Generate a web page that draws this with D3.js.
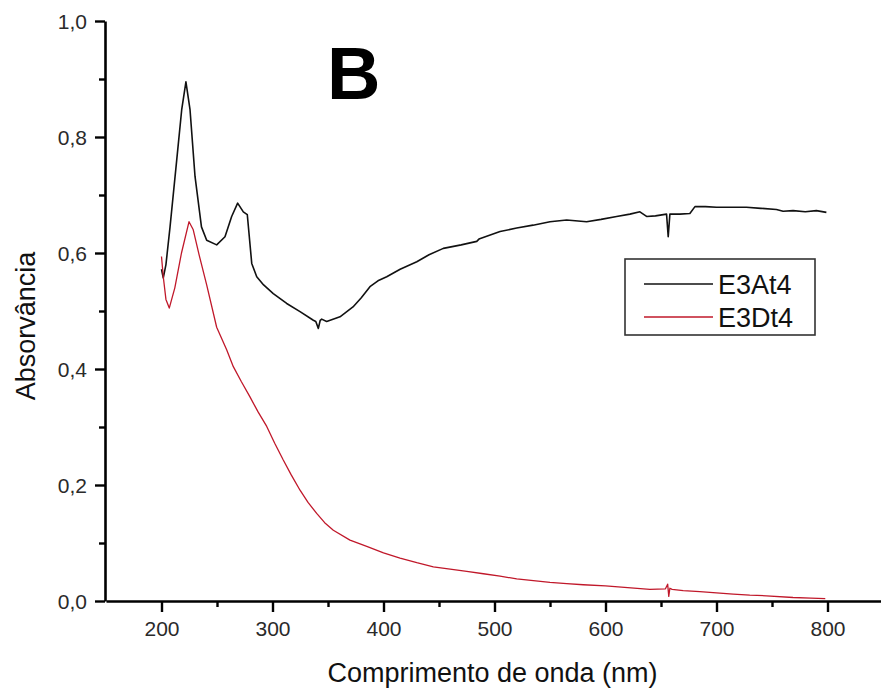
<!DOCTYPE html>
<html>
<head>
<meta charset="utf-8">
<script src="https://cdn.jsdelivr.net/npm/d3@7/dist/d3.min.js"></script>
<style>
  html, body { margin: 0; padding: 0; background: #fff; }
  svg { display: block; }
  text { font-family: "Liberation Sans", Arial, sans-serif; }
</style>
</head>
<body>
<svg id="chart" width="881" height="688"></svg>
<script>
// UV-Vis absorbance spectra, wavelength in nm
const seriesNames = ["E3At4", "E3Dt4"];
const seriesColors = ["#111111", "#c0182a"];

const wavelengthA = [200, 201.6, 204, 207.7, 213.7, 218.2, 222, 225.7, 230.2, 236, 240.7, 249.7, 257.2, 263.2, 268.6, 273.7, 277.3, 281.3, 285.8, 292, 300.7, 312.8, 324.8, 336.8, 339, 341.3, 343, 344.3, 348.8, 360.8, 372.5, 380, 387.8, 395, 402.9, 415, 430, 441, 453.9, 470, 484, 486, 505, 520, 534.7, 550, 565, 583, 596, 610, 622, 631, 634, 637, 645, 655, 656.5, 658, 667, 676, 680.6, 690, 700, 715, 727, 740, 754, 760, 769, 780, 790, 799];
const absorbA     = [0.572, 0.557, 0.580, 0.645, 0.760, 0.847, 0.895, 0.847, 0.732, 0.645, 0.622, 0.614, 0.628, 0.663, 0.686, 0.671, 0.666, 0.582, 0.559, 0.545, 0.530, 0.513, 0.499, 0.484, 0.482, 0.470, 0.484, 0.486, 0.482, 0.490, 0.507, 0.523, 0.542, 0.552, 0.559, 0.572, 0.585, 0.597, 0.608, 0.614, 0.620, 0.624, 0.637, 0.643, 0.648, 0.654, 0.657, 0.654, 0.658, 0.663, 0.667, 0.671, 0.667, 0.663, 0.664, 0.667, 0.628, 0.667, 0.667, 0.668, 0.680, 0.680, 0.679, 0.679, 0.679, 0.677, 0.675, 0.672, 0.673, 0.671, 0.673, 0.670];

const wavelengthD = [200, 201.6, 204, 207, 212, 218, 224.8, 228.6, 234, 240.7, 249.7, 258.7, 264.7, 272, 279.7, 287, 294.8, 302, 309.7, 317, 324.8, 332, 339.8, 347, 354.8, 369.8, 384.9, 400, 414.9, 430, 444.9, 460, 475, 490, 505, 520, 535, 550, 565, 580, 600, 620, 640, 654, 656, 657, 658, 660, 670, 685, 700, 715, 730, 745, 769, 785, 798];
const absorbD     = [0.594, 0.559, 0.520, 0.505, 0.540, 0.600, 0.654, 0.640, 0.596, 0.545, 0.472, 0.433, 0.404, 0.378, 0.352, 0.326, 0.301, 0.272, 0.243, 0.217, 0.191, 0.170, 0.151, 0.135, 0.122, 0.105, 0.094, 0.083, 0.074, 0.066, 0.059, 0.055, 0.051, 0.047, 0.043, 0.038, 0.035, 0.032, 0.030, 0.028, 0.026, 0.023, 0.020, 0.021, 0.029, 0.008, 0.022, 0.020, 0.018, 0.016, 0.014, 0.012, 0.010, 0.009, 0.006, 0.005, 0.004];

const xMajorTicks = [200, 300, 400, 500, 600, 700, 800];
const xMinorTicks = [250, 350, 450, 550, 650, 750];
const yMajorTicks = [0, 0.2, 0.4, 0.6, 0.8, 1.0];
const yMinorTicks = [0.1, 0.3, 0.5, 0.7, 0.9];

const xTitle = "Comprimento de onda (nm)";
const yTitle = "Absorvância";
const panelLabel = "B";

const svg = d3.select("#chart");

const x = d3.scaleLinear().domain([150, 850]).range([106, 883]);
const y = d3.scaleLinear().domain([0, 1]).range([601, 21]);

const comma = d3.formatLocale({ decimal: ",", thousands: ".", grouping: [3], currency: ["", ""] }).format(".1f");

// curves
const series = [
  { name: seriesNames[0], color: seriesColors[0], width: 1.6, pts: wavelengthA.map((w, i) => [w, absorbA[i]]) },
  { name: seriesNames[1], color: seriesColors[1], width: 1.3, pts: wavelengthD.map((w, i) => [w, absorbD[i]]) }
];
const line = d3.line().x(d => x(d[0])).y(d => y(d[1]));
svg.append("g").selectAll("path").data(series).join("path")
  .attr("d", d => line(d.pts))
  .attr("fill", "none")
  .attr("stroke", d => d.color)
  .attr("stroke-width", d => d.width)
  .attr("stroke-linejoin", "round");

// axes
const axisColor = "#000";
function styleAxis(g) {
  g.select(".domain").attr("stroke", axisColor).attr("stroke-width", 2.6);
  g.selectAll(".tick line").attr("stroke", axisColor).attr("stroke-width", 2.4);
  g.selectAll(".tick text").attr("fill", "#2a2a2a").style("font-size", "21px");
}

const gx = svg.append("g").attr("transform", `translate(0,${y(0)})`)
  .call(d3.axisBottom(x).tickValues(xMajorTicks).tickSize(11).tickSizeOuter(0).tickFormat(d3.format("d")))
  .call(styleAxis);
gx.selectAll(".tick text").attr("y", 35).attr("dy", 0);

svg.append("g").attr("transform", `translate(0,${y(0)})`)
  .call(d3.axisBottom(x).tickValues(xMinorTicks).tickSize(6).tickSizeOuter(0).tickFormat(""))
  .call(g => g.select(".domain").remove())
  .call(styleAxis);

const gy = svg.append("g").attr("transform", `translate(105,0)`)
  .call(d3.axisLeft(y).tickValues(yMajorTicks).tickSize(10).tickSizeOuter(0).tickFormat(comma))
  .call(styleAxis);
gy.selectAll(".tick text").attr("x", -18).attr("dy", "0.36em");

svg.append("g").attr("transform", `translate(105,0)`)
  .call(d3.axisLeft(y).tickValues(yMinorTicks).tickSize(6).tickSizeOuter(0).tickFormat(""))
  .call(g => g.select(".domain").remove())
  .call(styleAxis);

// axis titles
svg.append("text")
  .attr("x", (x.range()[0] + x.range()[1]) / 2 - 2)
  .attr("y", 682)
  .attr("text-anchor", "middle")
  .attr("fill", "#111")
  .style("font-size", "27px")
  .text(xTitle);

svg.append("text")
  .attr("transform", `translate(35,${326}) rotate(-90)`)
  .attr("text-anchor", "middle")
  .attr("fill", "#111")
  .style("font-size", "27px")
  .text(yTitle);

// panel label
svg.append("text")
  .attr("x", 327)
  .attr("y", 99)
  .attr("fill", "#000")
  .style("font-size", "74px")
  .style("font-weight", "bold")
  .text(panelLabel);

// legend
const legend = svg.append("g");
legend.append("rect")
  .attr("x", 625).attr("y", 259).attr("width", 190).attr("height", 76)
  .attr("fill", "#fff").attr("stroke", "#333").attr("stroke-width", 1.6);
const rows = legend.selectAll("g.row").data(series).join("g")
  .attr("class", "row")
  .attr("transform", (d, i) => `translate(0,${284 + i * 33})`);
rows.append("line")
  .attr("x1", 644).attr("x2", 713).attr("y1", 0).attr("y2", 0)
  .attr("stroke", d => d.color).attr("stroke-width", 1.6);
rows.append("text")
  .attr("x", 718).attr("y", 9.5)
  .attr("fill", "#111")
  .style("font-size", "27px")
  .text(d => d.name);
</script>
</body>
</html>
